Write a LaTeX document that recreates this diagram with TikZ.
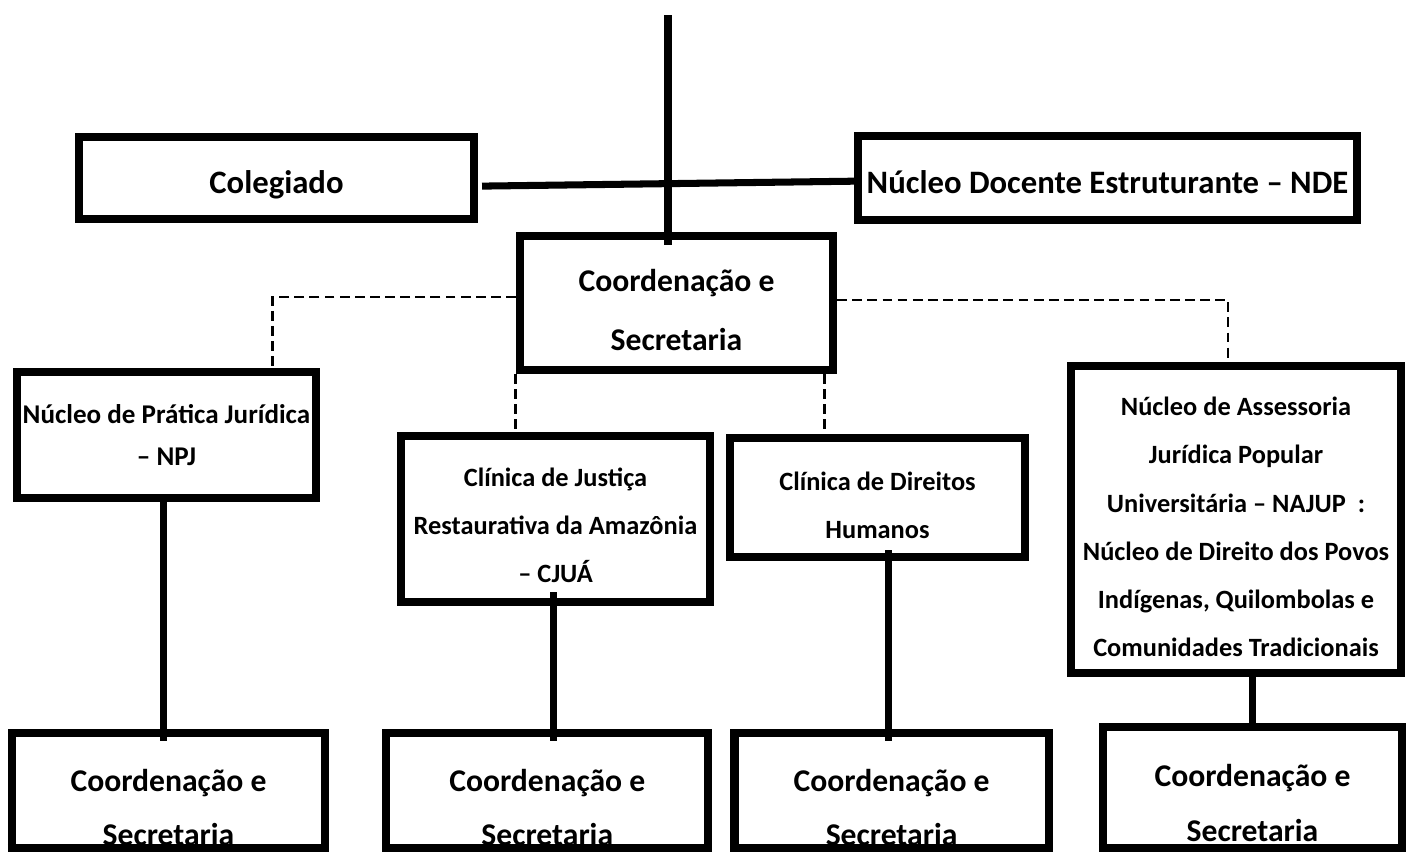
\documentclass[tikz,border=0pt]{standalone}
\usepackage{fontspec}
\setmainfont{Carlito}
\usetikzlibrary{positioning,calc}

\begin{document}
\begin{tikzpicture}[x=0.01cm,y=-0.01cm,
  box/.style={draw,line width=2.3pt,inner sep=0pt,align=center},
  link/.style={line width=2pt},
  dashlink/.style={line width=0.8pt,dash pattern=on 2.8pt off 1.5pt},
  bigfont/.style={font=\bfseries\fontsize{9.3}{12}\selectfont,text height=8.6pt,text depth=0pt},
  coordfont/.style={font=\bfseries\fontsize{9}{16.8}\selectfont},
  secfont/.style={font=\bfseries\fontsize{9}{15.6}\selectfont},
  npjfont/.style={font=\bfseries\fontsize{7.7}{12}\selectfont},
  smallfont/.style={font=\bfseries\fontsize{7.5}{13.7}\selectfont}]
\useasboundingbox (0,0) rectangle (1410,853);

% top level
\node[box,bigfont,minimum width=3.95cm,minimum height=0.82cm] (coleg) at (276.5,178) {Colegiado};
\node[box,bigfont,minimum width=4.99cm,minimum height=0.84cm] (nde) at (1107.5,178) {Núcleo Docente Estruturante – NDE};
\node[box,coordfont,minimum width=3.13cm,minimum height=1.34cm] (coord) at (676.5,303) {\rule{0pt}{10.5pt}Coordenação e\\Secretaria};

% nucleos e clinicas
\node[box,npjfont,minimum width=2.99cm,minimum height=1.26cm] (npj) at (166.5,435) {Núcleo de Prática Jurídica\\– NPJ};
\node[box,smallfont,minimum width=3.09cm,minimum height=1.66cm] (cjua) at (555.5,519) {\rule{0pt}{9pt}Clínica de Justiça\\Restaurativa da Amazônia\\– CJUÁ};
\node[box,smallfont,minimum width=2.95cm,minimum height=1.19cm] (dh) at (877.5,497.5) {\rule{0pt}{9.5pt}Clínica de Direitos\\Humanos};
\node[box,smallfont,minimum width=3.30cm,minimum height=3.07cm] (najup) at (1236,519.5) {\rule{0pt}{9.5pt}Núcleo de Assessoria\\Jurídica Popular\\Universitária – NAJUP\ \ :\\Núcleo de Direito dos Povos\\Indígenas, Quilombolas e\\Comunidades Tradicionais};

% secretarias
\node[box,secfont,minimum width=3.13cm,minimum height=1.15cm] (sec1) at (168.5,790.5) {\rule{0pt}{16pt}Coordenação e\\Secretaria};
\node[box,secfont,minimum width=3.22cm,minimum height=1.15cm,right=0.53cm of sec1] (sec2) {\rule{0pt}{16pt}Coordenação e\\Secretaria};
\node[box,secfont,minimum width=3.14cm,minimum height=1.15cm,right=0.18cm of sec2] (sec3) {\rule{0pt}{16pt}Coordenação e\\Secretaria};
\node[box,secfont,minimum width=2.99cm,minimum height=1.21cm] (sec4) at (1252.5,787.5) {\rule{0pt}{15pt}Coordenação e\\Secretaria};

% links
\coordinate (top) at (668,15);
\draw[link] (top) -- ($(top |- coord.north)+(0,13)$);
\draw[link] ([xshift=1.1pt,yshift=-2.3pt]coleg.east) -- ([yshift=-0.9pt]nde.west);

\draw[dashlink] ([yshift=1.7pt]coord.west) -| ([xshift=10.6mm]npj.north);
\draw[dashlink] ([yshift=0.85pt]coord.east) -| ([xshift=-0.8mm]najup.north);
\draw[dashlink] (coord.south west) -- (coord.south west |- cjua.north);
\draw[dashlink] ([xshift=-1.3mm]coord.south east) coordinate (dr) -- (dr |- dh.north);

\draw[link] ($(npj.south -| sec1.north)+(-5,0)$) -- ($(sec1.north)+(-5,12)$);
\draw[link] ($(cjua.south -| sec2.north)+(6,-14)$) -- ($(sec2.north)+(6,12)$);
\draw[link] ($(dh.south -| sec3.north)+(-3,-11)$) -- ($(sec3.north)+(-3,12)$);
\draw[link] (najup.south -| sec4.north) -- (sec4.north);

% bottom border over the text
\foreach \s in {sec1,sec2,sec3,sec4}
  \draw[line width=2.3pt] ([yshift=1.15pt]\s.south west) -- ([yshift=1.15pt]\s.south east);
\end{tikzpicture}
\end{document}
